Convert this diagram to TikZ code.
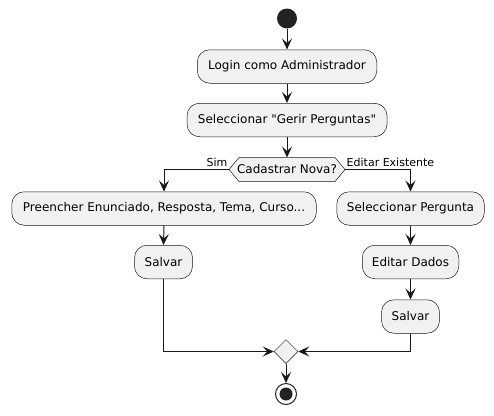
\documentclass[tikz,border=0pt]{standalone}
\usepackage{fontspec}
\setmainfont{DejaVu Sans}[Ligatures=TeXOff]
\usetikzlibrary{shapes.geometric,arrows.meta}
\definecolor{boxfill}{HTML}{F1F1F1}
\definecolor{ink}{HTML}{181818}
\definecolor{dot}{HTML}{222222}
\begin{document}
\begin{tikzpicture}[x=1pt,y=-1pt,
  act/.style={draw=ink,fill=boxfill,line width=0.5pt,rounded corners=12.5pt,minimum height=33.5pt,inner sep=0pt,font=\fontsize{12}{14}\selectfont,text=black},
  arr/.style={draw=ink,line width=1pt,-{Stealth[length=11pt,width=10pt,inset=4.5pt]}},
  lbl/.style={font=\fontsize{11}{13}\selectfont,inner sep=0pt,text=black}]
\useasboundingbox (0,0) rectangle (494,415);
\node[circle,fill=dot,minimum size=20pt,inner sep=0pt] (start) at (287,18.5) {};
\node[act,minimum width=179.5pt] (login) at (287,66.5) {Login como Administrador};
\node[act,minimum width=200pt] (gerir) at (287,120) {Seleccionar "Gerir Perguntas"};
\draw[draw=ink,fill=boxfill,line width=0.5pt] (229,169.5) -- (239,157.5) -- (335,157.5) -- (345,169.5) -- (335,181.5) -- (239,181.5) -- cycle;
\node[font=\fontsize{12}{14}\selectfont,inner sep=0pt] (dec) at (287,169.5) {Cadastrar Nova?};
\coordinate (decL) at (229,169.5);
\coordinate (decR) at (345,169.5);
\coordinate (decT) at (287,157.5);
\node[act,minimum width=304.5pt] (pre) at (164,208.5) {Preencher Enunciado, Resposta, Tema, Curso...};
\node[act,minimum width=147.5pt] (selp) at (410.5,208.5) {Seleccionar Pergunta};
\node[act,minimum width=58pt] (salv1) at (163.5,262) {Salvar};
\node[act,minimum width=96.5pt] (edit) at (410.5,262) {Editar Dados};
\node[act,minimum width=58pt] (salv2) at (410.5,316.5) {Salvar};
\node[diamond,draw=ink,fill=boxfill,line width=0.5pt,minimum width=24pt,minimum height=24pt,inner sep=0pt] (merge) at (286,351.5) {};
\node[circle,draw=dot,fill=white,line width=1pt,minimum size=21pt,inner sep=0pt] (endc) at (286,394) {};
\node[circle,fill=dot,minimum size=13pt,inner sep=0pt] (endi) at (endc.center) {};
\draw[arr] (start.south) -- (login.north);
\draw[arr] (login.south) -- (gerir.north);
\draw[arr] (gerir.south) -- (decT);
\draw[arr] (decL) -| (pre.north);
\draw[arr] (decR) -| (selp.north);
\node[lbl,anchor=base east] (sim) at (227.5,166) {Sim};
\node[lbl,anchor=base west] (edx) at (346.5,166) {Editar Existente};
\draw[arr] (pre.south) -- (salv1.north);
\draw[arr] (selp.south) -- (edit.north);
\draw[arr] (edit.south) -- (salv2.north);
\draw[arr] (salv1.south) |- (merge.west);
\draw[arr] (salv2.south) |- (merge.east);
\draw[arr] (merge.south) -- (endc.north);
\end{tikzpicture}
\end{document}
